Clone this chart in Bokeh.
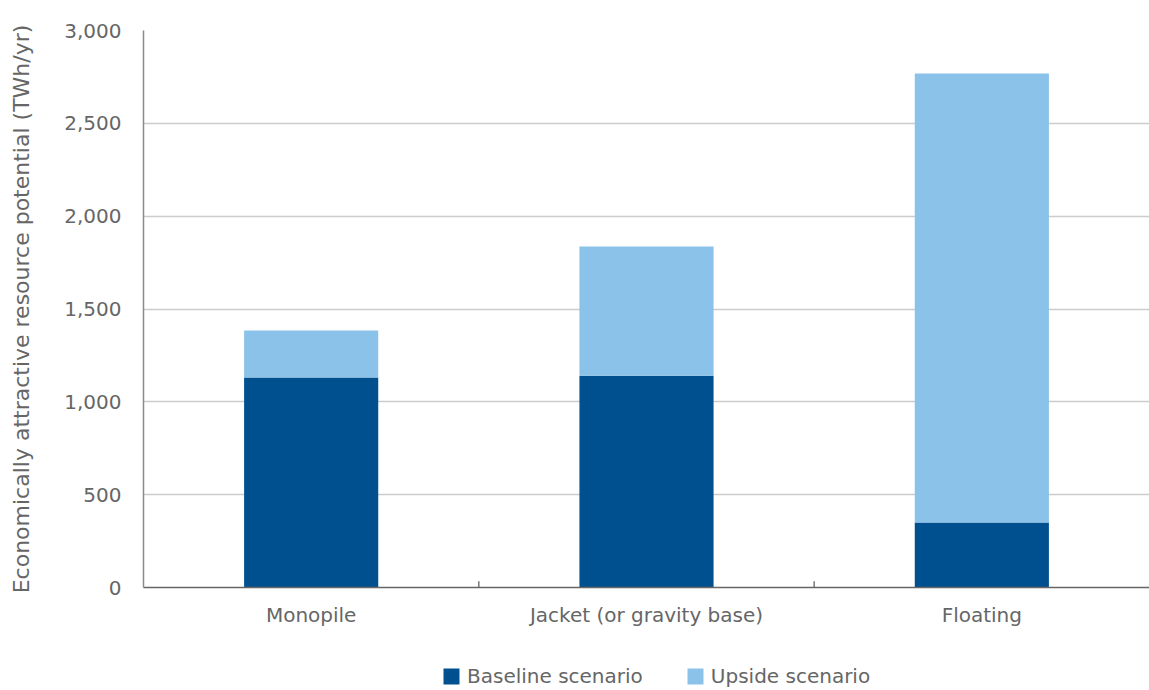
from bokeh.plotting import figure
from bokeh.layouts import column
from bokeh.models import (FactorRange, Range1d, NumeralTickFormatter, Legend,
                          LegendItem, SingleIntervalTicker, ColumnDataSource)
from bokeh.embed import file_html
from bokeh.resources import INLINE

# Economically attractive resource potential by foundation type (TWh/yr)
foundations = ["Monopile", "Jacket (or gravity base)", "Floating"]
baseline = [1131, 1140, 350]
upside_extra = [253, 697, 2418]
series_names = ["Baseline scenario", "Upside scenario"]

DARK = "#00508F"
LIGHT = "#8BC2EA"
TEXT = "#666666"
FONT = "DejaVu Sans"

src = ColumnDataSource(dict(x=foundations, base=baseline, extra=upside_extra,
                            top=[b + e for b, e in zip(baseline, upside_extra)]))

p = figure(x_range=FactorRange(factors=foundations, range_padding=0),
           y_range=Range1d(0, 3000),
           width=1149, height=640,
           output_backend="svg", toolbar_location=None,
           min_border_left=143, min_border_right=0, min_border_top=30,
           min_border_bottom=53)

p.vbar(x="x", bottom=0, top="base", width=0.4, source=src,
       fill_color=DARK, line_color=None)
p.vbar(x="x", bottom="base", top="top", width=0.4, source=src,
       fill_color=LIGHT, line_color=None)

# small upward tick marks at the boundaries between categories
bounds = list(range(1, len(foundations)))
p.segment(x0=bounds, x1=bounds, y0=[0] * len(bounds), y1=[33] * len(bounds),
          line_color="#666666", line_width=1.3)

p.outline_line_color = None
p.background_fill_color = "white"
p.border_fill_color = "white"

# y axis
p.yaxis.ticker = SingleIntervalTicker(interval=500)
p.yaxis.formatter = NumeralTickFormatter(format="0,0")
p.yaxis.axis_line_color = "#8A8A8A"
p.yaxis.axis_line_width = 1.5
p.yaxis.major_tick_line_color = None
p.yaxis.major_tick_out = 0
p.yaxis.minor_tick_line_color = None
p.yaxis.major_label_standoff = 18
p.yaxis.major_label_text_font = FONT
p.yaxis.major_label_text_font_size = "20px"
p.yaxis.major_label_text_color = TEXT
p.yaxis.axis_label = "Economically attractive resource potential (TWh/yr)"
p.yaxis.axis_label_text_font = FONT
p.yaxis.axis_label_text_font_size = "22px"
p.yaxis.axis_label_text_font_style = "normal"
p.yaxis.axis_label_text_color = TEXT
p.yaxis.axis_label_standoff = 27

# x axis
p.xaxis.axis_line_color = "#666666"
p.xaxis.axis_line_width = 1.5
p.xaxis.major_tick_line_color = None
p.xaxis.major_tick_out = 0
p.xaxis.minor_tick_line_color = None
p.xaxis.major_label_standoff = 15
p.xaxis.major_label_text_font = FONT
p.xaxis.major_label_text_font_size = "20px"
p.xaxis.major_label_text_color = TEXT

p.xgrid.grid_line_color = None
p.ygrid.grid_line_color = "#CCCCCC"
p.ygrid.grid_line_width = 1.5

# legend strip underneath the chart; its keys come from hidden renderers
leg = figure(width=1149, height=50, output_backend="svg", toolbar_location=None,
             min_border=0, outline_line_color=None)
leg.axis.visible = False
leg.grid.visible = False
k_base = leg.vbar(x=[0], top=[0], width=0.4, fill_color=DARK, line_color=None,
                  visible=False)
k_up = leg.vbar(x=[0], top=[0], width=0.4, fill_color=LIGHT, line_color=None,
                visible=False)
legend = Legend(items=[LegendItem(label=series_names[0], renderers=[k_base]),
                       LegendItem(label=series_names[1], renderers=[k_up])],
                orientation="horizontal", location=(298, 2),
                label_text_font=FONT, label_text_font_size="20px",
                label_text_color=TEXT, glyph_width=20, glyph_height=20,
                spacing=42, label_standoff=6, border_line_color=None,
                background_fill_alpha=0, margin=0, padding=0,
                inactive_fill_alpha=0)
leg.add_layout(legend, "center")

layout = column(p, leg, spacing=0)
open("out.html", "w").write(file_html(layout, INLINE))
